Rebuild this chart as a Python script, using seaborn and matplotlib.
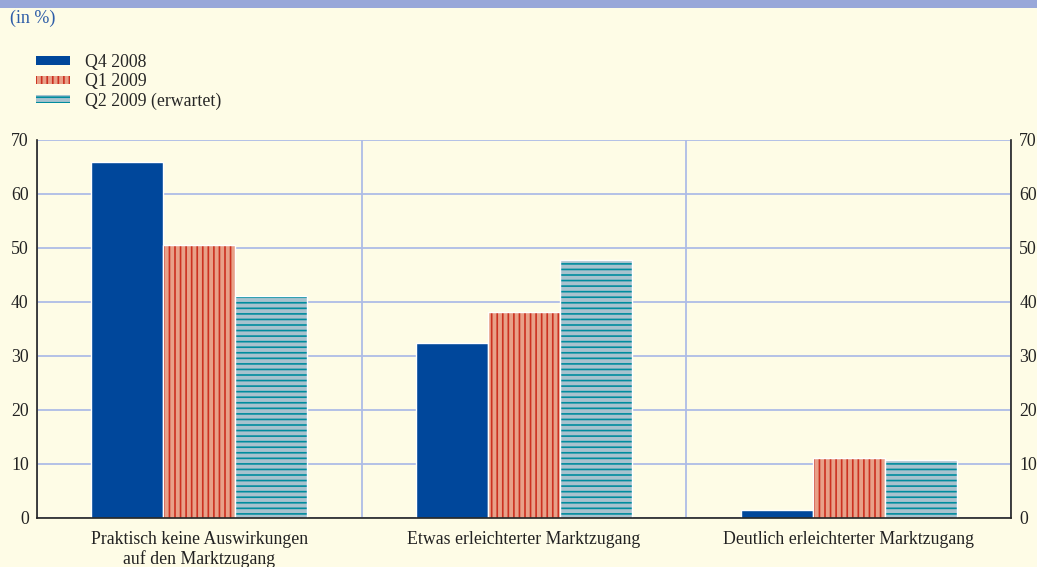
import pandas as pd
import matplotlib.pyplot as plt
import seaborn as sns
from matplotlib.patches import Rectangle, Patch

# Data
categories = ["Praktisch keine Auswirkungen\nauf den Marktzugang",
              "Etwas erleichterter Marktzugang",
              "Deutlich erleichterter Marktzugang"]
series = ["Q4 2008", "Q1 2009", "Q2 2009 (erwartet)"]
q4_2008 = [66.0, 32.4, 1.5]
q1_2009 = [50.5, 38.1, 11.1]
q2_2009 = [41.1, 47.8, 10.7]

df = pd.DataFrame({
    "cat": categories * 3,
    "series": [s for s in series for _ in categories],
    "value": q4_2008 + q1_2009 + q2_2009,
})

bg = "#FEFCE6"
face = ["#00479B", "#E8A088", "#A8C2CE"]
hatch_col = [None, "#CC3020", "#008C9E"]
hatches = [None, "|||", "---"]
fs = 12.8

sns.set_style("white")
plt.rcParams["font.family"] = ["Liberation Serif", "DejaVu Serif"]
plt.rcParams["hatch.linewidth"] = 1.2

fig = plt.figure(figsize=(10.37, 5.67), dpi=100, facecolor=bg)
ax = fig.add_axes([37 / 1037, 1 - 518 / 567, (1011 - 37) / 1037, (518 - 140) / 567])
ax.set_facecolor(bg)

sns.barplot(data=df, x="cat", y="value", hue="series", hue_order=series,
            palette=face, width=0.665, edgecolor="white", linewidth=1,
            legend=False, ax=ax)

for i, cont in enumerate(ax.containers):
    for bar in cont:
        bar.set_facecolor(face[i])
        if hatches[i]:
            bar.set_hatch(hatches[i])
            bar._hatch_color = plt.matplotlib.colors.to_rgba(hatch_col[i])

ax.set_ylim(0, 70)
ax.set_xlim(-0.5, 2.5)
ax.set_yticks(range(0, 71, 10))
ax.set_xlabel("")
ax.set_ylabel("")
ax.set_xticks([-0.5, 0.5, 1.5, 2.5], minor=True)
ax.grid(axis="y", color="#AEBCE6", linewidth=1.3)
ax.grid(axis="x", which="minor", color="#AEBCE6", linewidth=1.3)
ax.set_axisbelow(True)
ax.tick_params(axis="y", length=0, labelsize=fs, labelright=True, pad=6,
               colors="#222222")
ax.tick_params(axis="x", which="major", length=0, labelsize=fs, pad=9,
               colors="#222222")
ax.tick_params(axis="x", which="minor", length=5, width=1.2, direction="out",
               color="#222222")
for s in ["left", "right", "bottom"]:
    ax.spines[s].set_color("#222222")
    ax.spines[s].set_linewidth(1.2)
ax.spines["top"].set_visible(False)

# Header band
fig.patches.append(Rectangle((0, 1 - 8 / 567), 1, 8 / 567, transform=fig.transFigure,
                             facecolor="#98A7D9", edgecolor="none"))
fig.text(10 / 1037, 1 - 18 / 567, "(in %)", color="#2E5DA8", fontsize=13, va="center")

handles = [Patch(facecolor=face[i], edgecolor="none", hatch=hatches[i] or "")
           for i in range(3)]
for i in (1, 2):
    handles[i]._hatch_color = plt.matplotlib.colors.to_rgba(hatch_col[i])
fig.legend(handles, series, loc="upper left", bbox_to_anchor=(36 / 1037, 1 - 54 / 567),
           frameon=False, fontsize=fs, handlelength=1.9, handleheight=0.35,
           labelspacing=0.12, handletextpad=0.85, borderpad=0, borderaxespad=0)

plt.savefig("out.png", dpi=100, facecolor=bg)
